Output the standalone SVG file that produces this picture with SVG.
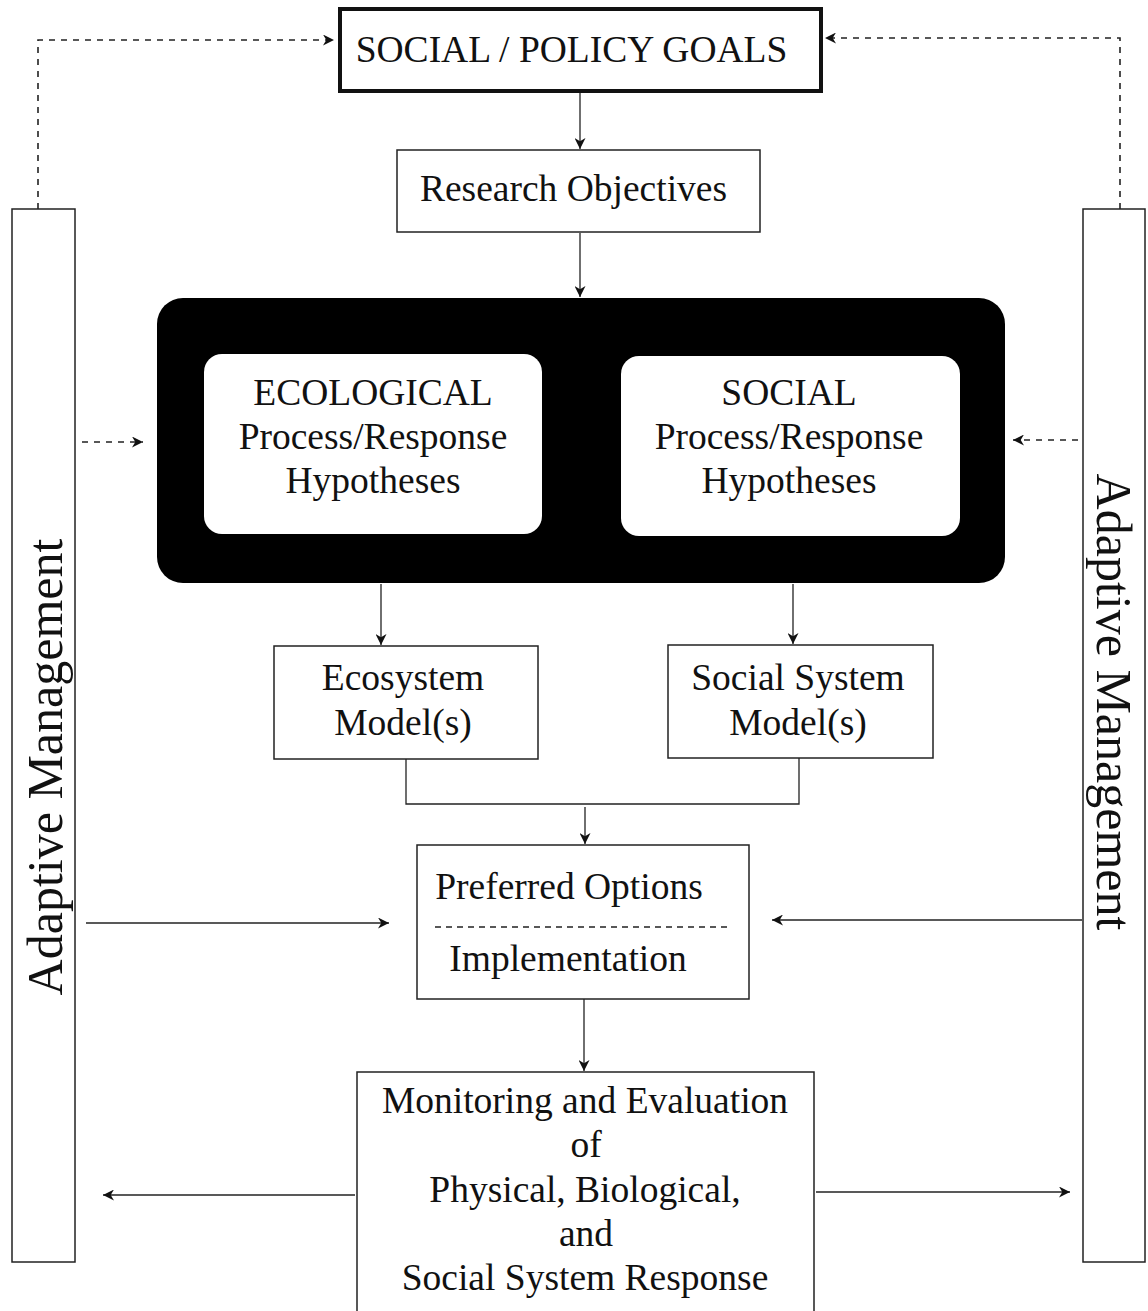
<svg xmlns="http://www.w3.org/2000/svg" width="1148" height="1311" viewBox="0 0 1148 1311">
<defs>
<style>
.t{font-family:"Liberation Serif","Times New Roman",serif;font-size:37.5px;fill:#111;text-anchor:middle}
.am{font-family:"Liberation Serif","Times New Roman",serif;font-size:50px;fill:#111;text-anchor:middle}
.box{fill:#fff;stroke:#222;stroke-width:1.5}
.ln{fill:none;stroke:#222;stroke-width:1.3}
.dash{fill:none;stroke:#222;stroke-width:1.6;stroke-dasharray:6 6}
</style>
<marker id="ah" viewBox="0 0 10 10" refX="10" refY="5" markerWidth="11" markerHeight="11" markerUnits="userSpaceOnUse" orient="auto">
<path d="M0,0 L10,5 L0,10 L3,5 z" fill="#111"/>
</marker>
</defs>
<rect width="1148" height="1311" fill="#fff"/>

<g id="adaptive-left">
<rect x="12" y="209" width="63" height="1053" class="box"/>
<text class="am" transform="translate(62,767) rotate(-90)">Adaptive Management</text>
</g>
<g id="adaptive-right">
<rect x="1083" y="209" width="62" height="1053" class="box"/>
<text class="am" transform="translate(1097,702) rotate(90)">Adaptive Management</text>
</g>

<g id="goals">
<rect x="340" y="9" width="481" height="82" fill="#fff" stroke="#111" stroke-width="4"/>
<text class="t" x="571.5" y="62">SOCIAL / POLICY GOALS</text>
</g>
<g id="research">
<rect x="397" y="150" width="363" height="82" class="box"/>
<text class="t" x="573.5" y="201">Research Objectives</text>
</g>
<g id="hypotheses">
<rect x="157" y="298" width="848" height="285" rx="26" fill="#000"/>
<g id="ecological">
<rect x="204" y="354" width="338" height="180" rx="18" fill="#fff"/>
<text class="t" x="373" y="405">ECOLOGICAL</text>
<text class="t" x="373" y="449">Process/Response</text>
<text class="t" x="373" y="493">Hypotheses</text>
</g>
<g id="social">
<rect x="621" y="356" width="339" height="180" rx="18" fill="#fff"/>
<text class="t" x="789" y="405">SOCIAL</text>
<text class="t" x="789" y="449">Process/Response</text>
<text class="t" x="789" y="493">Hypotheses</text>
</g>
</g>
<g id="ecosystem-model">
<rect x="274" y="646" width="264" height="113" class="box"/>
<text class="t" x="403" y="690">Ecosystem</text>
<text class="t" x="403" y="735">Model(s)</text>
</g>
<g id="social-model">
<rect x="668" y="645" width="265" height="113" class="box"/>
<text class="t" x="798" y="690">Social System</text>
<text class="t" x="798" y="735">Model(s)</text>
</g>
<g id="preferred">
<rect x="417" y="845" width="332" height="154" class="box"/>
<text class="t" x="569" y="899">Preferred Options</text>
<line x1="435" y1="927" x2="732" y2="927" stroke="#222" stroke-width="1.5" stroke-dasharray="6 5"/>
<text class="t" x="568" y="971">Implementation</text>
</g>
<g id="monitoring">
<path d="M357,1311 V1072 H814 V1311" class="box"/>
<text class="t" x="585" y="1113">Monitoring and Evaluation</text>
<text class="t" x="586" y="1157">of</text>
<text class="t" x="585" y="1202">Physical, Biological,</text>
<text class="t" x="586" y="1246">and</text>
<text class="t" x="585" y="1290">Social System Response</text>
</g>

<g id="connectors">
<path class="dash" d="M38,209 V40 H334" marker-end="url(#ah)"/>
<path class="dash" d="M1120,209 V38 H825" marker-end="url(#ah)"/>
<path class="dash" d="M82,442 H143" marker-end="url(#ah)"/>
<path class="dash" d="M1078,440 H1013" marker-end="url(#ah)"/>
<path class="ln" d="M580,93 V149" marker-end="url(#ah)"/>
<path class="ln" d="M580,233 V297" marker-end="url(#ah)"/>
<path class="ln" d="M381,584 V645" marker-end="url(#ah)"/>
<path class="ln" d="M793,584 V644" marker-end="url(#ah)"/>
<path class="ln" d="M406,759 V804 H799 V758"/>
<path class="ln" d="M585,807 V844" marker-end="url(#ah)"/>
<path class="ln" d="M86,923 H389" marker-end="url(#ah)"/>
<path class="ln" d="M1082,920 H772" marker-end="url(#ah)"/>
<path class="ln" d="M584,999 V1071" marker-end="url(#ah)"/>
<path class="ln" d="M355,1195 H103" marker-end="url(#ah)"/>
<path class="ln" d="M816,1192 H1070" marker-end="url(#ah)"/>
</g>
</svg>
